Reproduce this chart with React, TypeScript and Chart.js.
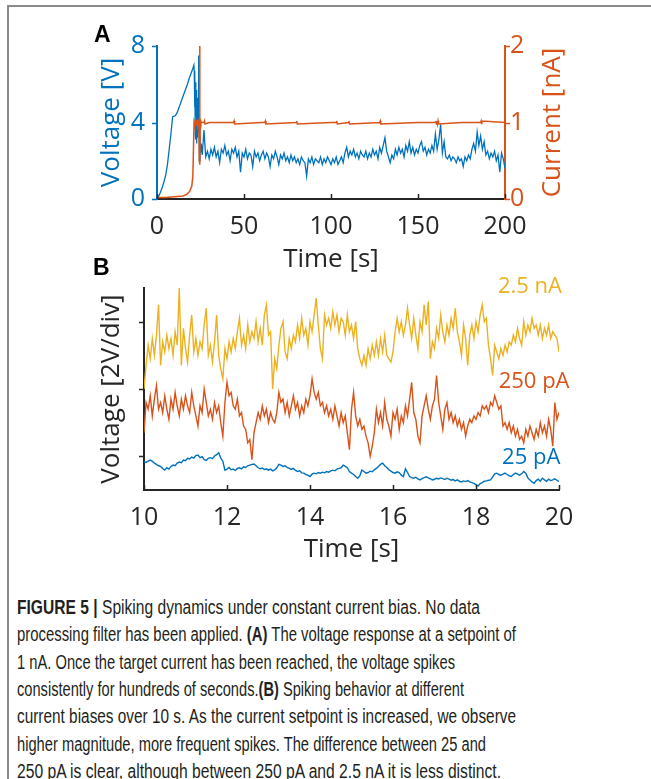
import React, { useEffect, useLayoutEffect, useRef } from 'react';
import { Chart, registerables } from 'chart.js';

Chart.register(...registerables);

const BLUE = '#0072BD';
const ORANGE = '#D95319';
const YELLOW = '#EDB120';
const DARK = '#262626';
const FONT = "'Open Sans', 'DejaVu Sans', sans-serif";

// ---------- Panel A data ----------
const ticksA_time = [0, 50, 100, 150, 200];
const ticksA_voltage = [0, 4, 8];
const ticksA_current = [0, 1, 2];

// voltage during ramp / onset (s, V)
const timeA_ramp = [0, 1, 2, 3, 4, 5, 6, 7, 8, 9, 10.5, 11.5, 12.5, 13.5, 14.5, 15.5, 16.5, 17.5, 18.5, 19.5, 20.5, 21.2,
  21.4, 21.6, 21.8, 22.0, 22.2, 22.4, 22.6, 22.8, 23.0, 23.2, 23.4, 23.6, 23.8, 24.1, 24.4, 24.7, 25.0, 25.4];
const voltageA_ramp = [0, 0.15, 0.35, 0.6, 0.9, 1.25, 1.8, 2.6, 3.4, 4.3, 4.35, 4.5, 4.75, 5.0, 5.25, 5.5, 5.75, 6.0, 6.3, 6.55, 6.8, 7.0,
  6.7, 4.8, 6.6, 3.4, 6.1, 3.1, 5.7, 2.9, 5.0, 3.2, 5.3, 3.5, 4.4, 7.5, 2.0, 3.3, 2.4, 2.9];

// voltage after the target current is reached, one sample per second from t = 26 s
const voltageA_steady = [
  2.3, 3.6, 2.2, 2.5, 2.1, 2.6, 2.3, 2.7, 2.2, 2.5,
  1.9, 2.6, 2.4, 2.8, 2.3, 2.5, 2.0, 2.6, 2.4, 2.7,
  2.2, 2.5, 1.4, 2.4, 2.2, 2.6, 2.1, 2.4, 2.3, 1.7,
  2.5, 2.2, 2.4, 2.0, 2.3, 2.5, 2.1, 2.4, 2.2, 1.7,
  2.3, 2.1, 2.5, 2.2, 1.8, 2.3, 2.1, 2.4, 2.0, 2.2,
  1.9, 2.3, 2.0, 2.2, 1.9, 2.1, 1.8, 2.2, 2.0, 1.9,
  1.2, 2.1, 1.9, 2.2, 1.8, 2.1, 2.0, 1.9, 2.2, 1.8,
  2.1, 1.9, 2.2, 2.0, 1.8, 2.1, 1.9, 2.2, 1.8, 2.0,
  2.2, 1.9, 2.4, 2.7, 2.2, 2.5, 2.3, 2.6, 2.2, 2.4,
  2.1, 2.5, 2.3, 2.2, 2.5, 2.1, 2.4, 2.2, 2.6, 2.3,
  2.5, 2.1, 2.7, 2.4, 2.8, 3.2, 2.5, 2.2, 1.9, 2.3,
  2.1, 2.6, 2.3, 2.7, 2.4, 2.6, 2.2, 2.8, 2.5, 3.0,
  2.4, 2.7, 2.3, 2.6, 2.4, 2.8, 3.0, 2.5, 2.7, 2.3,
  2.6, 2.4, 2.8, 2.5, 3.4, 2.6, 3.1, 3.9, 2.4, 3.0,
  2.2, 2.1, 2.3, 2.0, 2.2, 2.1, 1.9, 2.2, 2.0, 2.1,
  1.7, 2.2, 2.0, 2.3, 2.1, 2.6, 2.9, 2.5, 3.5, 2.8,
  3.3, 2.6, 3.0, 2.3, 2.5, 2.1, 2.4, 2.2, 2.5, 2.0,
  2.3, 1.4, 2.4, 2.1, 1.6,
];
const steadyStartA = 26;

// current (s, nA)
const timeA_current = [0, 5, 10, 15, 17, 18, 19, 20, 20.6, 21.0, 21.3, 21.7, 22.1, 22.5, 22.9, 23.3, 23.7, 24.1, 24.3, 24.5, 24.7,
  24.9, 25.2, 27, 27.3, 27.6, 30, 44, 44.3, 44.6, 60, 62, 62.3, 62.6, 80, 80.3, 80.6, 100, 103, 103.3, 103.6, 110, 110.3, 110.6,
  128, 128.3, 128.6, 150, 160, 160.3, 160.6, 160.9, 161.2, 161.5, 161.8, 175, 186, 186.3, 186.6, 186.9, 200];
const currentA = [0.02, 0.02, 0.03, 0.04, 0.06, 0.08, 0.11, 0.17, 0.3, 0.7, 1.0, 0.96, 1.03, 0.97, 1.03, 0.96, 1.02, 0.98, 0.5, 2.0, 0.45,
  1.03, 1.0, 1.0, 1.02, 0.98, 1.0, 1.0, 1.02, 0.98, 1.0, 1.0, 1.02, 0.98, 1.0, 1.02, 0.98, 1.0, 1.0, 1.02, 0.98, 1.0, 1.02, 0.98,
  1.0, 1.02, 0.98, 1.0, 1.0, 1.02, 0.98, 1.02, 0.98, 1.02, 0.98, 1.0, 1.0, 1.02, 0.98, 1.02, 1.0];

// ---------- Panel B data ----------
const ticksB_time = [10, 12, 14, 16, 18, 20];
const ticksB_voltage = [2, 4, 6];
const startB = 10;
const sampleStepB = 0.05;

const voltageB_2p5nA = [
  4.0, 4.7, 5.3, 4.9, 5.5, 5.0, 5.6, 6.5, 4.7, 5.4, 5.1, 5.6, 5.2, 5.5, 5.0, 5.7, 5.3, 7.0, 4.7, 5.8,
  5.2, 4.8, 5.6, 6.2, 5.1, 5.5, 5.0, 5.4, 5.2, 5.9, 6.4, 5.0, 5.3, 4.8, 5.4, 6.2, 5.0, 4.6, 4.3, 5.2,
  4.9, 5.4, 5.1, 5.5, 5.2, 5.7, 6.1, 5.3, 5.6, 5.2, 5.9, 5.4, 5.7, 5.5, 6.0, 5.4, 5.8, 5.3, 6.2, 6.5,
  5.6, 5.7, 4.0, 4.9, 4.6, 5.3, 5.8, 6.0, 5.1, 4.9, 5.5, 5.2, 5.6, 5.4, 5.9, 5.5, 6.1, 5.6, 5.8, 5.3,
  6.0, 5.7, 6.2, 6.7, 5.9, 5.2, 4.9, 6.2, 5.9, 6.1, 5.8, 6.3, 5.9, 6.2, 5.7, 6.1, 6.0, 5.6, 6.2, 5.7,
  5.9, 5.5, 6.0, 5.2, 4.9, 4.7, 5.0, 4.7, 5.2, 4.9, 5.3, 5.0, 5.4, 5.0, 5.5, 5.1, 5.6, 5.0, 4.9, 4.8,
  5.1, 5.7, 6.1, 5.7, 6.0, 5.6, 5.9, 6.4, 5.9, 5.5, 6.1, 5.6, 5.2, 6.0, 5.7, 6.5, 5.9, 6.6, 4.9, 5.4,
  5.2, 5.8, 5.5, 6.2, 5.7, 5.4, 5.9, 5.6, 6.1, 5.8, 6.4, 5.7, 5.4, 5.0, 5.9, 5.5, 4.7, 5.6, 5.9, 5.5,
  6.0, 5.7, 6.2, 6.5, 6.0, 6.1, 5.3, 4.9, 4.4, 5.3, 5.1, 4.9, 5.2, 5.0, 5.3, 5.1, 5.4, 5.3, 5.6, 5.4,
  5.8, 5.5, 5.3, 6.0, 5.6, 5.9, 5.7, 6.1, 5.8, 5.9, 5.6, 5.9, 5.5, 5.8, 5.6, 5.9, 5.5, 5.7, 5.6, 5.5,
  5.1,
];

const voltageB_250pA = [
  2.7, 3.6, 3.4, 3.8, 3.2, 3.7, 4.1, 3.4, 3.6, 3.3, 3.8, 3.4, 3.1, 3.7, 3.4, 3.9, 3.5, 3.2, 3.7, 3.4,
  3.8, 3.5, 3.3, 3.9, 3.5, 3.2, 2.9, 3.5, 3.3, 4.0, 3.6, 3.2, 3.4, 3.1, 3.6, 3.3, 3.5, 3.0, 2.6, 3.6,
  4.2, 3.8, 3.9, 3.5, 3.4, 3.7, 3.2, 3.3, 2.9, 2.8, 2.4, 2.5, 1.9, 2.7, 3.0, 3.3, 3.1, 3.5, 3.2, 3.4,
  3.0, 3.3, 3.1, 3.0, 3.3, 3.9, 3.6, 3.7, 3.3, 3.6, 3.2, 3.5, 3.8, 3.4, 3.6, 3.2, 3.5, 3.3, 3.7, 3.5,
  3.8, 4.3, 3.9, 3.7, 3.9, 3.5, 3.6, 3.3, 3.5, 3.2, 3.4, 3.1, 3.5, 3.2, 2.9, 3.3, 3.0, 3.2, 2.7, 2.2,
  3.4, 3.9, 3.2, 2.9, 3.1, 2.8, 2.9, 2.6, 2.4, 2.0, 2.3, 2.7, 3.4, 3.0, 3.3, 2.9, 3.6, 3.1, 2.9, 2.6,
  3.3, 3.1, 3.4, 2.8, 3.2, 3.0, 3.5, 3.2, 3.7, 4.2, 3.3, 3.1, 2.6, 2.4, 3.2, 3.5, 3.8, 3.4, 3.1, 3.5,
  3.7, 4.4, 3.6, 3.2, 2.8, 3.4, 3.6, 3.1, 3.3, 3.0, 3.2, 2.9, 3.1, 2.8, 3.0, 2.6, 2.9, 3.1, 3.0, 3.2,
  3.1, 3.3, 3.2, 3.5, 3.4, 3.5, 3.3, 3.6, 3.5, 3.8, 3.6, 3.4, 3.5, 2.9, 3.0, 2.8, 3.0, 2.7, 2.9, 2.6,
  2.8, 2.5, 2.6, 2.4, 2.8, 2.6, 2.9, 2.7, 2.5, 2.8, 2.6, 3.0, 2.7, 2.9, 2.6, 3.1, 2.8, 2.3, 3.6, 3.1,
  3.3,
];

const voltageB_25pA = [
  1.84, 1.82, 1.86, 1.89, 1.85, 1.80, 1.76, 1.72, 1.70, 1.64, 1.59, 1.66, 1.62, 1.70, 1.74, 1.72, 1.80, 1.83, 1.81, 1.89,
  1.87, 1.94, 1.92, 1.98, 1.95, 2.02, 2.04, 1.96, 1.99, 1.90, 1.88, 1.94, 1.96, 1.93, 2.01, 2.05, 2.11, 1.95, 1.85, 1.59,
  1.62, 1.67, 1.60, 1.62, 1.58, 1.64, 1.66, 1.63, 1.69, 1.67, 1.72, 1.74, 1.76, 1.77, 1.72, 1.66, 1.63, 1.65, 1.61, 1.63,
  1.59, 1.62, 1.57, 1.60, 1.66, 1.76, 1.74, 1.70, 1.72, 1.67, 1.64, 1.61, 1.64, 1.58, 1.55, 1.57, 1.51, 1.50, 1.46, 1.44,
  1.40, 1.47, 1.50, 1.48, 1.52, 1.50, 1.53, 1.51, 1.55, 1.53, 1.57, 1.59, 1.57, 1.62, 1.64, 1.66, 1.74, 1.70, 1.66, 1.55,
  1.50, 1.46, 1.40, 1.35, 1.42, 1.59, 1.55, 1.50, 1.52, 1.56, 1.54, 1.60, 1.64, 1.70, 1.76, 1.80, 1.72, 1.67, 1.60, 1.56,
  1.52, 1.50, 1.54, 1.52, 1.44, 1.40, 1.63, 1.52, 1.40, 1.37, 1.35, 1.38, 1.33, 1.30, 1.34, 1.37, 1.39, 1.36, 1.33, 1.30,
  1.32, 1.35, 1.33, 1.36, 1.34, 1.31, 1.35, 1.32, 1.29, 1.31, 1.27, 1.30, 1.26, 1.24, 1.27, 1.25, 1.28, 1.24, 1.22, 1.20,
  1.16, 1.12, 1.19, 1.22, 1.26, 1.27, 1.29, 1.30, 1.38, 1.48, 1.50, 1.46, 1.44, 1.47, 1.50, 1.46, 1.42, 1.40, 1.46, 1.50,
  1.47, 1.44, 1.48, 1.55, 1.50, 1.36, 1.30, 1.24, 1.20, 1.28, 1.32, 1.26, 1.35, 1.30, 1.26, 1.32, 1.28, 1.30, 1.33, 1.29,
  1.25,
];

const seriesLabelsB = ['2.5 nA', '250 pA', '25 pA'];

// ---------- helpers ----------
const toXY = (xs: number[], ys: number[]) => ys.map((y, i) => ({ x: xs[i], y }));
const sampled = (start: number, step: number, ys: number[]) =>
  ys.map((y, i) => ({ x: +(start + i * step).toFixed(3), y }));

const decorPlugin = {
  id: 'decor',
  afterDraw(chart: any, _args: any, opts: any) {
    const { ctx, chartArea } = chart;
    (opts.tickMarks || []).forEach((m: any) => {
      const scale = chart.scales[m.axis];
      ctx.save();
      ctx.strokeStyle = m.color;
      ctx.lineWidth = m.width;
      scale.ticks.forEach((t: any) => {
        const p = Math.round(scale.getPixelForValue(t.value)) + 0.5;
        ctx.beginPath();
        if (scale.isHorizontal()) {
          ctx.moveTo(p, chartArea.bottom);
          ctx.lineTo(p, chartArea.bottom + m.dir * m.len);
        } else {
          const x = scale.position === 'left' ? chartArea.left : chartArea.right;
          ctx.moveTo(x, p);
          ctx.lineTo(x + m.dir * m.len, p);
        }
        ctx.stroke();
      });
      ctx.restore();
    });
    (opts.texts || []).forEach((l: any) => {
      ctx.save();
      ctx.fillStyle = l.color;
      ctx.font = l.font;
      ctx.textAlign = 'center';
      ctx.textBaseline = 'middle';
      let x: number;
      let y: number;
      if (l.xValue !== undefined) {
        x = chart.scales.x.getPixelForValue(l.xValue);
        y = chart.scales[l.yAxis || 'y'].getPixelForValue(l.yValue);
      } else {
        x = chartArea.right + l.dx;
        y = (chartArea.top + chartArea.bottom) / 2;
      }
      ctx.translate(x, y);
      ctx.rotate(l.rotation || 0);
      ctx.fillText(l.text, 0, 0);
      ctx.restore();
    });
  },
};

const setTicks = (values: number[]) => (scale: any) => {
  scale.ticks = values.map((v) => ({ value: v }));
};

const TICK_SIZE = 25;
const TITLE_SIZE = 26;
const noGrid = { display: false, drawTicks: false };

function PanelA() {
  const ref = useRef<HTMLCanvasElement | null>(null);
  useEffect(() => {
    if (!ref.current) return;
    const voltageData = [
      ...toXY(timeA_ramp, voltageA_ramp),
      ...sampled(steadyStartA, 1, voltageA_steady),
    ];
    const chart = new Chart(ref.current, {
      type: 'line',
      data: {
        datasets: [
          {
            label: 'Current',
            data: toXY(timeA_current, currentA),
            yAxisID: 'y1',
            borderColor: ORANGE,
            borderWidth: 1.5,
            pointRadius: 0,
            tension: 0,
          },
          {
            label: 'Voltage',
            data: voltageData,
            yAxisID: 'y',
            borderColor: BLUE,
            borderWidth: 1.3,
            pointRadius: 0,
            tension: 0,
          },
        ],
      },
      options: {
        responsive: false,
        animation: false,
        devicePixelRatio: 1,
        layout: { padding: { top: 46, left: 0, right: 0, bottom: 0 } },
        plugins: {
          legend: { display: false },
          tooltip: { enabled: false },
          decor: {
            tickMarks: [
              { axis: 'x', color: DARK, width: 1.5, dir: -1, len: 5 },
              { axis: 'y', color: BLUE, width: 1.5, dir: -1, len: 5 },
              { axis: 'y1', color: ORANGE, width: 1.5, dir: 1, len: 5 },
            ],
            texts: [
              { text: 'Current [nA]', color: ORANGE, font: `${TITLE_SIZE}px ${FONT}`, dx: 48, rotation: -Math.PI / 2 },
            ],
          },
        } as any,
        scales: {
          x: {
            type: 'linear',
            min: 0,
            max: 200,
            afterBuildTicks: setTicks(ticksA_time),
            ticks: { color: DARK, font: { family: FONT, size: TICK_SIZE }, padding: 12.5, maxRotation: 0, autoSkip: false },
            grid: noGrid,
            border: { display: true, color: DARK, width: 2 },
            title: { display: true, text: 'Time [s]', color: DARK, font: { family: FONT, size: TITLE_SIZE }, padding: { top: 0, bottom: 5 } },
            afterFit: (s: any) => { s.height = 81; },
          },
          y: {
            type: 'linear',
            position: 'left',
            min: 0,
            max: 8,
            afterBuildTicks: setTicks(ticksA_voltage),
            ticks: { color: BLUE, font: { family: FONT, size: TICK_SIZE }, padding: 12 },
            grid: noGrid,
            border: { display: true, color: BLUE, width: 2 },
            title: { display: true, text: 'Voltage [V]', color: BLUE, font: { family: FONT, size: TITLE_SIZE }, padding: { top: 96, bottom: 0 } },
            afterFit: (s: any) => { s.width = 157; },
          },
          y1: {
            type: 'linear',
            position: 'right',
            min: 0,
            max: 2,
            afterBuildTicks: setTicks(ticksA_current),
            ticks: { color: ORANGE, font: { family: FONT, size: TICK_SIZE }, padding: 5 },
            grid: noGrid,
            border: { display: true, color: ORANGE, width: 2 },
            afterFit: (s: any) => { s.width = 146; },
          },
        },
      } as any,
      plugins: [decorPlugin as any],
    });
    return () => chart.destroy();
  }, []);
  return (
    <canvas
      ref={ref}
      width={651}
      height={280}
      style={{ position: 'absolute', left: 0, top: 0, width: 651, height: 280 }}
    />
  );
}

function PanelB() {
  const ref = useRef<HTMLCanvasElement | null>(null);
  useEffect(() => {
    if (!ref.current) return;
    const chart = new Chart(ref.current, {
      type: 'line',
      data: {
        datasets: [
          { label: seriesLabelsB[0], data: sampled(startB, sampleStepB, voltageB_2p5nA), borderColor: YELLOW, borderWidth: 1.4, pointRadius: 0, tension: 0 },
          { label: seriesLabelsB[1], data: sampled(startB, sampleStepB, voltageB_250pA), borderColor: ORANGE, borderWidth: 1.4, pointRadius: 0, tension: 0 },
          { label: seriesLabelsB[2], data: sampled(startB, sampleStepB, voltageB_25pA), borderColor: BLUE, borderWidth: 1.4, pointRadius: 0, tension: 0 },
        ],
      },
      options: {
        responsive: false,
        animation: false,
        devicePixelRatio: 1,
        layout: { padding: { top: 33, left: 0, right: 92, bottom: 0 } },
        plugins: {
          legend: { display: false },
          tooltip: { enabled: false },
          decor: {
            tickMarks: [
              { axis: 'x', color: DARK, width: 1.5, dir: -1, len: 5 },
              { axis: 'y', color: DARK, width: 1.5, dir: -1, len: 5 },
            ],
            texts: [
              { text: seriesLabelsB[0], color: YELLOW, font: `22px ${FONT}`, xValue: 19.3, yValue: 7.03 },
              { text: seriesLabelsB[1], color: ORANGE, font: `22px ${FONT}`, xValue: 19.4, yValue: 4.22 },
              { text: seriesLabelsB[2], color: BLUE, font: `22px ${FONT}`, xValue: 19.33, yValue: 1.95 },
            ],
          },
        } as any,
        scales: {
          x: {
            type: 'linear',
            min: 10,
            max: 20,
            afterBuildTicks: setTicks(ticksB_time),
            ticks: { color: DARK, font: { family: FONT, size: TICK_SIZE }, padding: 13.3, maxRotation: 0, autoSkip: false },
            grid: noGrid,
            border: { display: true, color: DARK, width: 2 },
            title: { display: true, text: 'Time [s]', color: DARK, font: { family: FONT, size: TITLE_SIZE }, padding: { top: 0, bottom: 0 } },
            afterFit: (s: any) => { s.height = 75; },
          },
          y: {
            type: 'linear',
            position: 'left',
            min: 1,
            max: 7,
            afterBuildTicks: setTicks(ticksB_voltage),
            ticks: { display: false },
            grid: noGrid,
            border: { display: true, color: DARK, width: 2 },
            title: { display: true, text: 'Voltage [2V/div]', color: DARK, font: { family: FONT, size: TITLE_SIZE }, padding: { top: 96, bottom: 0 } },
            afterFit: (s: any) => { s.width = 144; },
          },
        },
      } as any,
      plugins: [decorPlugin as any],
    });
    return () => chart.destroy();
  }, []);
  return (
    <canvas
      ref={ref}
      width={651}
      height={310}
      style={{ position: 'absolute', left: 0, top: 255, width: 651, height: 310 }}
    />
  );
}

type Seg = { t: string; b?: boolean };
const captionLines: Seg[][] = [
  [{ t: 'FIGURE 5 |', b: true }, { t: ' Spiking dynamics under constant current bias. No data' }],
  [{ t: 'processing filter has been applied. ' }, { t: '(A)', b: true }, { t: ' The voltage response at a setpoint of' }],
  [{ t: '1 nA. Once the target current has been reached, the voltage spikes' }],
  [{ t: 'consistently for hundreds of seconds.' }, { t: '(B)', b: true }, { t: ' Spiking behavior at different' }],
  [{ t: 'current biases over 10 s. As the current setpoint is increased, we observe' }],
  [{ t: 'higher magnitude, more frequent spikes. The difference between 25 and' }],
  [{ t: '250 pA is clear, although between 250 pA and 2.5 nA it is less distinct.' }],
];
const captionWidths = [463, 499, 438, 447, 499, 469, 484];

function Caption() {
  const refs = useRef<(HTMLSpanElement | null)[]>([]);
  useLayoutEffect(() => {
    const fit = () => {
      refs.current.forEach((el, i) => {
        if (!el) return;
        el.style.transform = 'none';
        const w = el.getBoundingClientRect().width;
        if (w > 0) el.style.transform = `scaleX(${captionWidths[i] / w})`;
      });
    };
    fit();
    if ((document as any).fonts && (document as any).fonts.ready) {
      (document as any).fonts.ready.then(fit);
    }
  }, []);
  return (
    <>
      {captionLines.map((line, i) => (
        <div
          key={i}
          style={{
            position: 'absolute',
            left: 17,
            top: 594 + i * 27.3,
            height: 27.3,
            lineHeight: '27.3px',
            whiteSpace: 'nowrap',
            fontFamily: "'Liberation Sans Narrow', 'Liberation Sans', Arial, sans-serif",
            fontSize: 19.5,
            color: '#231f20',
          }}
        >
          <span
            ref={(el) => { refs.current[i] = el; }}
            style={{ display: 'inline-block', transformOrigin: 'left center' }}
          >
            {line.map((s, j) => (
              <span key={j} style={{ fontWeight: s.b ? 700 : 400 }}>{s.t}</span>
            ))}
          </span>
        </div>
      ))}
    </>
  );
}

const panelLabelStyle: React.CSSProperties = {
  position: 'absolute',
  fontFamily: "'Liberation Sans', Arial, sans-serif",
  fontWeight: 700,
  fontSize: 23,
  lineHeight: '23px',
  color: '#000',
};

export default function App() {
  return (
    <div
      style={{
        position: 'absolute',
        left: 0,
        top: 0,
        width: 651,
        height: 779,
        overflow: 'hidden',
        background: '#ffffff',
      }}
    >
      <div
        style={{
          position: 'absolute',
          left: 7,
          top: 5,
          width: 700,
          height: 800,
          borderTop: '2px solid #8a8a8a',
          borderLeft: '2px solid #8a8a8a',
          boxSizing: 'border-box',
        }}
      />
      <PanelA />
      <PanelB />
      <div style={{ ...panelLabelStyle, left: 94, top: 23 }}>A</div>
      <div style={{ ...panelLabelStyle, left: 93, top: 256 }}>B</div>
      <Caption />
    </div>
  );
}
